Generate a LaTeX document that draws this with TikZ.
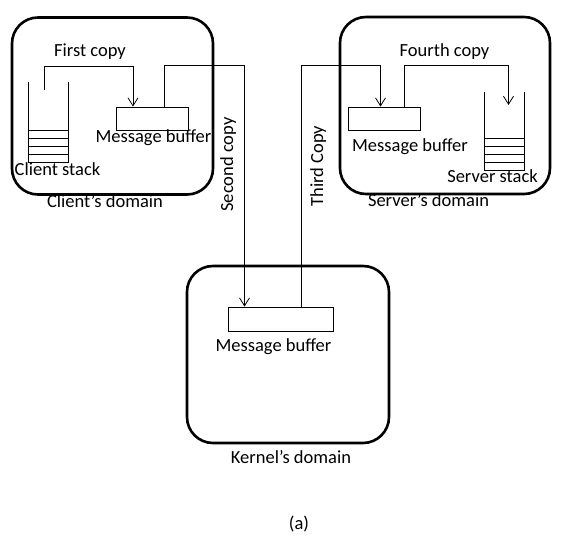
\documentclass[tikz,border=0pt]{standalone}
\usepackage{fontspec}
\setmainfont{Carlito}
\usetikzlibrary{arrows.meta}

\tikzset{
    domainbox/.style={draw, line width=2.6pt, rounded corners=26pt, inner sep=0pt},
    bufferbox/.style={draw, line width=0.8pt, inner sep=0pt},
    copyline/.style={line width=0.8pt, -{Straight Barb[length=8pt,width=10pt]}},
    lbl/.style={inner sep=0pt, anchor=base, font=\fontsize{18.5}{22}\selectfont}
}

\begin{document}
\begin{tikzpicture}[x=1pt,y=-1pt]
    \useasboundingbox (0,0) rectangle (573,545);

    % Domains
    \node[domainbox, minimum width=201pt, minimum height=177pt] (client) at (112.5,106) {};
    \node[domainbox, minimum width=210pt, minimum height=177pt] (server) at (445,105.5) {};
    \node[domainbox, minimum width=202pt, minimum height=177pt] (kernel) at (288,354.5) {};

    % Message buffers
    \node[bufferbox, minimum width=72pt, minimum height=23pt] (cbuf) at (152,118.5) {};
    \node[bufferbox, minimum width=72pt, minimum height=23pt] (sbuf) at (384,118.5) {};
    \node[bufferbox, minimum width=105pt, minimum height=24pt] (kbuf) at (280.5,319) {};

    % Client stack
    \draw[line width=0.8pt] (28,82) -- (28,162) -- (68,162) -- (68,82);
    \foreach \y in {130,138,146,154}
        \draw[line width=0.8pt] (28,\y) -- (68,\y);
    \coordinate (cstack) at (44,90);

    % Server stack
    \draw[line width=0.8pt] (484,92) -- (484,170) -- (524,170) -- (524,92);
    \foreach \y in {138,146,154,162}
        \draw[line width=0.8pt] (484,\y) -- (524,\y);
    \coordinate (sstack) at (508.5,105);

    % Copies
    \draw[copyline] (cstack) -- ++(0,-24) -| ([xshift=-19pt]cbuf.north); % first copy
    \draw[copyline] ([xshift=12pt]cbuf.north) -- ++(0,-41) -| ([xshift=-36pt]kbuf.north); % second copy
    \draw[copyline] ([xshift=21pt]kbuf.north) -- ++(0,-241) -| ([xshift=-3.5pt]sbuf.north); % third copy
    \draw[copyline] ([xshift=20pt]sbuf.north) -- ++(0,-41) -| (sstack); % fourth copy

    % Labels
    \node[lbl] (firstlbl) at (90,57) {First copy};
    \node[lbl, rotate=90] (secondlbl) at (233,164.5) {Second copy};
    \node[lbl, rotate=90] (thirdlbl) at (323,166) {Third Copy};
    \node[lbl] (fourthlbl) at (444.5,57) {Fourth copy};

    \node[lbl] (cbuflbl) at (153.5,143) {Message buffer};
    \node[lbl] (sbuflbl) at (410,152) {Message buffer};
    \node[lbl] (kbuflbl) at (273.5,352) {Message buffer};

    \node[lbl] (cstacklbl) at (57.5,176) {Client stack};
    \node[lbl] (sstacklbl) at (492.5,183) {Server stack};

    \node[lbl] (clientlbl) at (105,208) {Client’s domain};
    \node[lbl] (serverlbl) at (428.5,207) {Server’s domain};
    \node[lbl] (kernellbl) at (291,463) {Kernel’s domain};

    \node[lbl] (caption) at (299,529) {(a)};

\end{tikzpicture}
\end{document}
